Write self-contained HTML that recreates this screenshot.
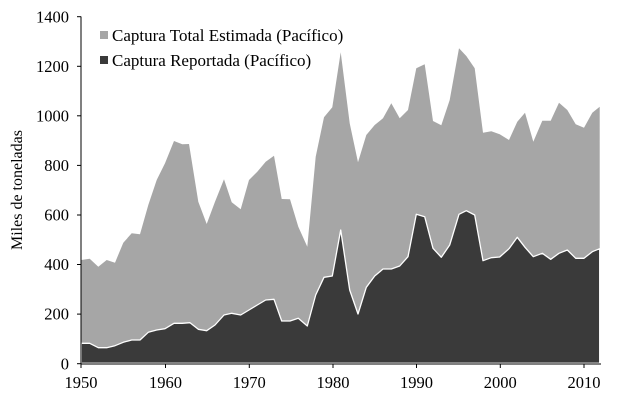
<!DOCTYPE html>
<html><head><meta charset="utf-8"><style>
html,body{margin:0;padding:0;background:#fff;}
svg{display:block;font-family:"Liberation Serif",serif;}
</style></head><body>
<svg width="624" height="410" viewBox="0 0 624 410" xmlns="http://www.w3.org/2000/svg">
<g transform="translate(-1,0)">
<polygon fill="#a6a6a6" points="82.3,363.3 82.3,260 90.7,258.7 99.3,266.7 107.7,260 116,262.7 124.3,242.7 132.7,233.3 141,234.3 149.3,205 157.7,180 166,163.3 175,141 183.3,144.3 190,144 199.3,201.7 207.7,224 216,201.7 225,179.3 232.7,202.3 241.7,209.3 250,180 258.3,171.7 266.7,161.7 275,155.7 282.7,199 291,199.3 299.3,226.7 308.3,246.7 316.7,156.7 325,117.3 333.3,107.3 341.7,52.3 350.7,123.3 359,162.3 367.3,135 375.7,125 384,118.3 392.3,103.3 400.7,118.3 409,110 417.3,68.3 425.7,64.3 434,121 442.3,125.3 450.7,100 460,48.3 467.3,56 475.7,68.3 484,132.7 492.3,131.3 500.7,134.3 510,140 518.3,121.7 526,112.7 534.3,141.7 543.3,120.7 551.7,120.7 560,102.7 568.3,110 576.7,124.3 585,127.7 593.3,112.7 600.7,106.7 600.7,363.3"/>
<polygon fill="#3a3a3a" stroke="#fff" stroke-width="1.3" stroke-linejoin="round" points="82.3,363.3 82.3,343.3 90.7,343.3 99.3,347.7 107.7,347.7 116,345.7 124.3,342.3 132.7,340 141,340 149.3,332.3 157.7,330 166,328.7 175,323.3 183.3,323.3 191,322.7 199.3,329.3 207.7,330.7 216,325 225,315 232.7,313.3 241.7,315 250,310 258.3,305 266.7,300 275,299.3 282.7,321 291,321 299.3,318.3 308.3,326 316.7,295 325,277.3 333.3,276 341.7,230 350.7,290 359,314 367.3,287.3 375.7,276 384,269 392.3,269 400.7,266 409,256.7 417.3,214.3 425.7,216.7 434,248.3 442.3,257.3 450.7,245 460,214.3 467.3,210.7 475.7,215 484,260.7 492.3,257.7 500.7,257 510,248.7 518.3,237.3 526,247.3 534.3,256.7 543.3,253.3 551.7,259.3 560,253.3 568.3,250 576.7,258.3 585,258.3 593.3,251.7 600.7,248.7 600.7,363.3"/>
</g>
<g stroke="#000" stroke-width="1" fill="none">
<line x1="81" y1="16.5" x2="81" y2="364"/>
<line x1="81" y1="364" x2="601" y2="364"/>
<line x1="77" y1="16.7" x2="81" y2="16.7"/>
<line x1="77" y1="66.3" x2="81" y2="66.3"/>
<line x1="77" y1="115.8" x2="81" y2="115.8"/>
<line x1="77" y1="165.4" x2="81" y2="165.4"/>
<line x1="77" y1="215" x2="81" y2="215"/>
<line x1="77" y1="264.5" x2="81" y2="264.5"/>
<line x1="77" y1="314.1" x2="81" y2="314.1"/>
<line x1="77" y1="363.7" x2="81" y2="363.7"/>
<line x1="81" y1="364" x2="81" y2="368"/>
<line x1="165.5" y1="364" x2="165.5" y2="368"/>
<line x1="249.3" y1="364" x2="249.3" y2="368"/>
<line x1="333" y1="364" x2="333" y2="368"/>
<line x1="416.5" y1="364" x2="416.5" y2="368"/>
<line x1="500.3" y1="364" x2="500.3" y2="368"/>
<line x1="584" y1="364" x2="584" y2="368"/>
</g>
<g font-size="16.5" fill="#000" text-anchor="end">
<text x="69" y="22.5">1400</text>
<text x="69" y="72">1200</text>
<text x="69" y="121.5">1000</text>
<text x="69" y="171">800</text>
<text x="69" y="220.5">600</text>
<text x="69" y="270">400</text>
<text x="69" y="319.5">200</text>
<text x="69" y="369.5">0</text>
</g>
<g font-size="16.5" fill="#000" text-anchor="middle">
<text x="81" y="388">1950</text>
<text x="165.5" y="388">1960</text>
<text x="249.3" y="388">1970</text>
<text x="333" y="388">1980</text>
<text x="416.5" y="388">1990</text>
<text x="500.3" y="388">2000</text>
<text x="584" y="388">2010</text>
</g>
<text transform="translate(22,190) rotate(-90)" font-size="16" text-anchor="middle">Miles de toneladas</text>
<rect x="100" y="31" width="8" height="8" fill="#a6a6a6"/>
<text x="112" y="41" font-size="17">Captura Total Estimada (Pacífico)</text>
<rect x="100" y="56" width="8" height="8" fill="#3a3a3a"/>
<text x="112" y="66" font-size="17">Captura Reportada (Pacífico)</text>
</svg>
</body></html>
